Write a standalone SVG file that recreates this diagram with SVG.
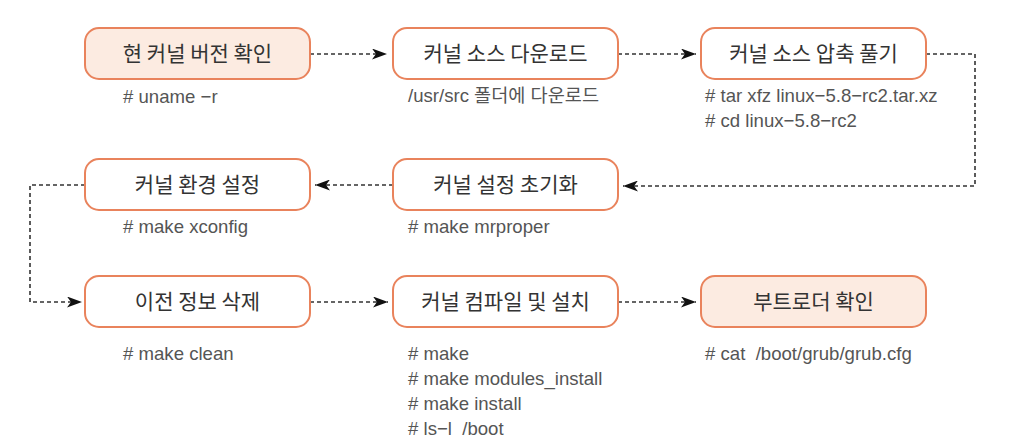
<svg xmlns="http://www.w3.org/2000/svg" width="1016" height="448" viewBox="0 0 1016 448">
<style>
.box{fill:#ffffff;stroke:#e9835c;stroke-width:2}
.hl{fill:#fcebe1}
.t{font-family:"Noto Sans CJK KR","Noto Sans",sans-serif;font-size:21px;fill:#333;text-anchor:middle}
.c{font-family:"Liberation Sans","Noto Sans CJK KR",sans-serif;font-size:18.6px;fill:#555}
.ln{fill:none;stroke:#333;stroke-width:1.6;stroke-dasharray:4 3}
</style>
<defs>
<marker id="ah" viewBox="0 0 15 11" refX="15" refY="5.5" markerWidth="15" markerHeight="11" markerUnits="userSpaceOnUse" orient="auto">
<path d="M0,0 L15,5.5 L0,11 L4,5.5 Z" fill="#111"/>
</marker>
</defs>
<rect width="1016" height="448" fill="#fff"/>
<g id="connectors">
<path class="ln" d="M310,54 H387" marker-end="url(#ah)"/>
<path class="ln" d="M618,54 H696" marker-end="url(#ah)"/>
<path class="ln" d="M926,54 H975 V186 H623" marker-end="url(#ah)"/>
<path class="ln" d="M393,185 H315" marker-end="url(#ah)"/>
<path class="ln" d="M85,185 H30 V302 H82" marker-end="url(#ah)"/>
<path class="ln" d="M310,302 H388" marker-end="url(#ah)"/>
<path class="ln" d="M618,302 H696" marker-end="url(#ah)"/>
</g>
<g id="n1"><rect class="box hl" x="85" y="28" width="225" height="51" rx="14"/><text class="t" x="197.5" y="61">현 커널 버전 확인</text><text class="c" x="123" y="103"># uname −r</text></g>
<g id="n2"><rect class="box" x="393" y="28" width="225" height="51" rx="14"/><text class="t" x="505.5" y="61">커널 소스 다운로드</text><text class="c" x="408" y="102">/usr/src 폴더에 다운로드</text></g>
<g id="n3"><rect class="box" x="701" y="28" width="225" height="51" rx="14"/><text class="t" x="813.5" y="61">커널 소스 압축 풀기</text><text class="c" x="705" y="102"># tar xfz linux−5.8−rc2.tar.xz</text><text class="c" x="705" y="127"># cd linux−5.8−rc2</text></g>
<g id="n4"><rect class="box" x="85" y="159" width="225" height="51" rx="14"/><text class="t" x="197.5" y="192">커널 환경 설정</text><text class="c" x="123" y="233"># make xconfig</text></g>
<g id="n5"><rect class="box" x="393" y="159" width="225" height="51" rx="14"/><text class="t" x="505.5" y="192">커널 설정 초기화</text><text class="c" x="408" y="233"># make mrproper</text></g>
<g id="n6"><rect class="box" x="85" y="276" width="225" height="51" rx="14"/><text class="t" x="197.5" y="309">이전 정보 삭제</text><text class="c" x="123" y="360"># make clean</text></g>
<g id="n7"><rect class="box" x="393" y="276" width="225" height="51" rx="14"/><text class="t" x="505.5" y="309">커널 컴파일 및 설치</text><text class="c" x="408" y="360"># make</text><text class="c" x="408" y="385"># make modules_install</text><text class="c" x="408" y="410"># make install</text><text class="c" x="408" y="435" xml:space="preserve"># ls−l  /boot</text></g>
<g id="n8"><rect class="box hl" x="701" y="276" width="225" height="51" rx="14"/><text class="t" x="813.5" y="309">부트로더 확인</text><text class="c" x="705" y="360" xml:space="preserve"># cat  /boot/grub/grub.cfg</text></g>
</svg>
